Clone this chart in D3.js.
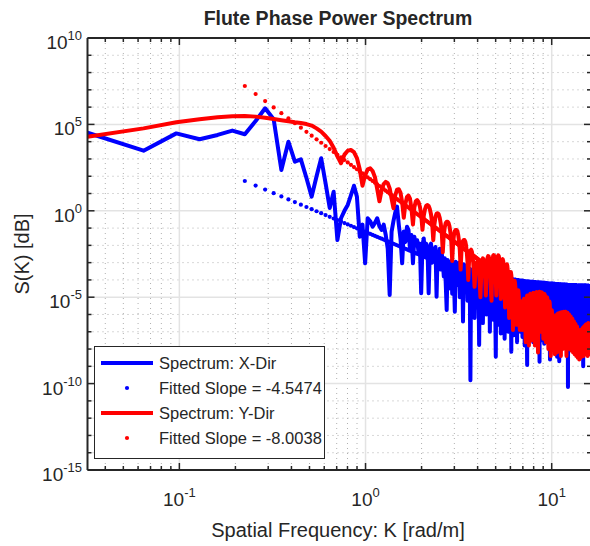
<!DOCTYPE html>
<html><head><meta charset="utf-8">
<script src="https://cdn.jsdelivr.net/npm/d3@7"></script>
<style>body{margin:0;background:#fff}svg{display:block}text{font-family:"Liberation Sans",Arial,Helvetica,sans-serif;fill:#262626}</style>
</head><body><svg id="c" width="590" height="546"></svg>
<script>
// ---- data (sample index n -> K = n * dK) ----
const dK = 0.0321;
// log10 of S(K), X-direction spectrum, samples n = 1..495
const spectrumXLog10 = [4.52,3.48,4.48,4.14,4.39,4.64,4.43,5.20,5.93,5.30,2.36,4.00,2.84,2.98,1.90,0.82,2.00,3.04,1.60,0.16,
1.10,-1.69,-0.43,0.00,0.34,0.90,1.45,0.82,-1.50,-0.80,-3.04,-0.43,-0.60,-0.92,-0.70,-0.43,-0.90,-1.11,-0.80,-1.40,
-2.20,-4.87,-1.20,-0.60,-0.10,0.24,-0.80,-1.60,-3.04,-1.20,-1.80,-0.92,-1.10,-2.20,-1.40,-3.04,-1.50,-2.00,-1.70,-2.40,
-1.90,-4.77,-2.00,-1.60,-2.60,-1.90,-2.10,-4.77,-2.30,-1.90,-3.00,-2.20,-2.60,-2.10,-4.97,-2.40,-2.80,-2.20,-3.40,-2.50,
-2.90,-3.80,-2.75,-4.20,-5.74,-2.85,-4.50,-3.00,-3.60,-2.90,-4.80,-3.00,-3.90,-5.84,-2.95,-4.30,-3.05,-3.70,-3.00,-5.00,
-3.10,-4.10,-3.20,-6.41,-3.10,-4.40,-3.20,-3.90,-3.15,-5.20,-3.30,-4.60,-3.35,-9.80,-3.40,-5.00,-3.45,-4.20,-3.50,-6.20,
-3.50,-4.80,-3.55,-5.60,-3.55,-4.50,-7.77,-3.60,-5.20,-3.60,-4.60,-3.62,-6.50,-3.62,-5.00,-3.65,-4.40,-3.65,-6.00,-3.67,
-5.30,-3.68,-4.80,-3.70,-7.00,-3.70,-5.50,-3.72,-4.60,-3.72,-6.30,-3.74,-5.10,-3.75,-5.80,-8.44,-3.76,-4.90,-3.78,-6.60,
-3.78,-5.40,-3.80,-4.70,-3.80,-7.10,-3.82,-5.60,-3.84,-6.20,-3.85,-5.00,-3.86,-7.40,-3.88,-5.80,-3.88,-6.40,-3.90,-5.20,
-3.90,-7.00,-3.92,-5.50,-3.93,-6.10,-3.94,-5.00,-8.15,-3.95,-6.30,-3.96,-5.40,-3.97,-7.20,-3.98,-5.80,-3.98,-6.50,-3.99,
-5.10,-4.00,-7.60,-4.00,-5.90,-4.01,-6.40,-4.02,-5.30,-4.03,-7.00,-4.03,-6.00,-4.04,-5.50,-4.04,-7.30,-4.05,-6.20,-4.05,
-5.60,-4.06,-7.80,-4.06,-6.40,-4.07,-5.40,-4.07,-6.90,-8.92,-4.08,-6.00,-4.08,-5.70,-4.09,-7.40,-4.09,-6.30,-4.10,-5.50,
-4.10,-7.00,-4.10,-6.10,-4.11,-5.80,-4.11,-7.60,-4.11,-6.40,-4.12,-5.60,-4.12,-7.10,-4.12,-6.00,-4.13,-5.70,-4.13,-7.80,
-4.13,-6.30,-4.14,-5.90,-4.14,-7.20,-4.14,-8.73,-4.15,-6.20,-4.15,-5.60,-4.15,-7.50,-4.15,-6.50,-4.16,-5.80,-4.16,-7.10,
-4.16,-6.00,-4.17,-7.70,-4.17,-6.40,-4.17,-5.70,-4.18,-7.30,-4.18,-6.10,-4.18,-6.80,-4.19,-5.90,-4.19,-7.60,-4.19,-6.30,
-4.20,-5.80,-4.20,-7.20,-8.60,-4.20,-6.40,-4.20,-5.90,-4.21,-7.40,-4.21,-6.10,-4.21,-6.70,-4.21,-7.90,-4.22,-6.30,-4.22,
-5.80,-4.22,-7.10,-4.22,-6.60,-4.23,-6.00,-4.23,-7.50,-4.23,-6.40,-4.23,-8.44,-4.24,-6.20,-4.24,-7.00,-4.24,-5.90,-4.24,
-7.70,-8.70,-4.25,-6.50,-4.25,-6.00,-4.25,-7.30,-4.25,-6.30,-4.26,-5.90,-4.26,-7.60,-4.26,-6.60,-4.26,-6.10,-4.26,-7.20,
-4.27,-6.40,-4.27,-7.90,-4.27,-6.00,-4.27,-6.80,-4.27,-7.40,-4.28,-6.20,-4.28,-7.00,-4.28,-6.50,-4.28,-7.80,-4.28,-6.30,
-10.20,-4.29,-6.90,-4.29,-7.30,-4.29,-6.10,-4.29,-7.60,-4.29,-6.60,-4.29,-7.10,-4.30,-6.20,-4.30,-8.00,-4.30,-6.80,-4.30,
-6.30,-4.30,-7.40,-4.30,-6.50,-4.30,-7.90,-4.30,-6.10,-4.31,-7.00,-4.31,-6.70,-4.31,-7.50,-4.31,-6.30,-4.31,-8.20,-4.31,
-6.80,-4.31,-7.20,-4.31,-6.40,-4.31,-7.70,-4.32,-6.60,-4.32,-7.10,-4.32,-6.20,-4.32,-8.10,-4.32,-6.90,-4.32,-7.40,-4.32,
-6.50,-4.32,-7.80,-4.32,-6.30,-4.32,-7.20,-4.32,-6.80,-4.32,-8.30,-4.33,-6.60,-4.33,-7.50,-4.33,-6.40,-4.33,-7.00,-9.00,
-4.33,-6.70,-4.33,-7.60,-4.33,-6.30,-4.33,-7.90,-4.33,-6.90,-4.33,-7.20,-4.33,-6.50,-4.33,-8.00,-4.33,-6.80,-4.33,-7.40,
-4.34,-6.40,-4.34,-7.70,-4.34,-6.90,-4.34,-7.30,-4.34,-6.60,-4.34,-8.10,-4.34,-6.70,-4.34];
// log10 of S(K), Y-direction spectrum, samples n = 1..495
const spectrumYLog10 = [4.29,4.77,5.12,5.30,5.41,5.47,5.49,5.45,5.39,5.31,5.24,5.18,5.12,5.08,5.02,4.93,4.77,4.58,4.33,4.05,
3.65,3.15,2.75,3.25,3.48,3.52,3.40,3.05,2.40,1.45,2.05,2.40,2.46,2.30,1.95,1.25,0.55,1.20,1.55,1.68,
1.60,1.30,0.70,0.15,0.90,1.22,1.25,1.05,0.50,-0.40,0.40,0.80,0.88,0.70,0.10,-0.80,0.20,0.55,0.62,0.50,
0.25,-0.20,-1.10,-0.30,0.10,0.30,0.34,0.28,0.10,-0.20,-0.70,-1.70,-0.80,-0.35,-0.16,-0.14,-0.20,-0.40,-0.75,-1.30,
-2.40,-1.40,-0.95,-0.70,-0.63,-0.63,-0.70,-0.90,-1.25,-1.80,-2.90,-1.90,-1.40,-1.18,-1.11,-1.11,-1.18,-1.40,-1.75,-2.30,
-3.40,-2.40,-1.95,-1.75,-1.69,-1.69,-1.78,-2.00,-2.40,-3.00,-4.00,-3.00,-2.50,-2.30,-2.25,-2.35,-2.60,-3.00,-3.60,-4.40,
-3.70,-3.20,-3.00,-2.95,-3.00,-3.20,-3.60,-4.20,-5.00,-4.00,-3.20,-2.85,-2.75,-2.80,-3.00,-3.40,-4.00,-4.90,-3.90,-3.10,
-2.70,-2.62,-2.65,-2.80,-3.20,-3.80,-4.70,-5.20,-3.80,-2.90,-2.60,-2.56,-2.60,-2.80,-3.20,-3.90,-4.90,-3.80,-3.00,-2.65,
-2.58,-2.62,-2.85,-3.30,-4.00,-5.10,-4.10,-3.20,-2.85,-2.80,-2.90,-3.20,-3.70,-4.50,-5.60,-4.40,-3.50,-3.15,-3.10,-3.20,
-3.50,-4.00,-4.80,-6.20,-4.90,-4.00,-3.60,-3.55,-3.70,-4.00,-4.50,-5.30,-6.90,-5.40,-4.50,-4.10,-4.05,-4.20,-4.50,-5.00,
-5.80,-6.60,-5.60,-4.90,-4.60,-4.60,-4.80,-5.20,-5.80,-6.90,-6.00,-5.40,-5.25,-5.30,-5.60,-6.10,-6.90,-6.30,-5.50,-5.15,
-5.10,-5.20,-5.50,-6.00,-6.80,-7.60,-6.40,-5.50,-5.00,-4.90,-4.95,-5.20,-5.70,-6.50,-7.80,-6.30,-5.40,-4.90,-4.80,-4.85,
-5.10,-5.60,-6.40,-7.50,-6.20,-5.30,-4.85,-4.75,-4.78,-5.00,-5.50,-6.30,-7.80,-6.40,-5.40,-4.90,-4.72,-4.70,-4.85,-5.30,
-6.00,-7.00,-8.20,-6.30,-5.30,-4.80,-4.68,-4.68,-4.80,-5.20,-5.90,-7.00,-6.20,-5.30,-4.85,-4.72,-4.75,-4.95,-5.40,-6.10,
-7.40,-6.40,-5.50,-5.00,-4.82,-4.85,-5.05,-5.50,-6.20,-7.60,-6.50,-5.60,-5.15,-5.00,-5.05,-5.30,-5.80,-6.60,-8.00,-6.70,
-5.80,-5.35,-5.25,-5.35,-5.70,-6.30,-7.20,-8.40,-7.00,-6.10,-5.80,-5.75,-5.95,-6.40,-7.10,-8.00,-7.20,-6.50,-6.25,-6.20,
-6.35,-6.80,-7.50,-8.30,-7.20,-6.40,-6.10,-6.05,-6.20,-6.60,-7.20,-8.20,-7.10,-6.30,-6.00,-5.95,-6.10,-6.50,-7.10,-8.00,
-7.00,-6.25,-5.95,-5.90,-6.00,-6.40,-7.00,-7.90,-8.40,-6.90,-6.20,-5.92,-5.88,-6.00,-6.40,-7.00,-8.00,-7.00,-6.20,-5.90,
-5.85,-5.95,-6.30,-6.90,-7.80,-7.00,-6.20,-5.88,-5.84,-5.92,-6.25,-6.80,-7.60,-8.40,-7.00,-6.25,-5.95,-5.90,-6.00,-6.35,
-6.90,-7.70,-7.10,-6.40,-6.05,-6.00,-6.10,-6.50,-7.10,-8.00,-7.20,-6.50,-6.18,-6.12,-6.25,-6.60,-7.20,-8.10,-7.20,-6.60,
-6.30,-6.25,-6.35,-6.70,-7.30,-8.20,-7.40,-6.75,-6.45,-6.40,-6.50,-6.85,-7.40,-8.30,-7.50,-6.90,-6.60,-6.55,-6.65,-7.00,
-7.60,-8.40,-7.60,-7.00,-6.75,-6.70,-6.80,-7.15,-7.70,-8.50,-7.70,-7.10,-6.90,-6.88,-7.00,-7.30,-7.90,-8.60,-7.80,-7.20,
-7.00,-6.98,-7.10,-7.40,-8.00,-8.50,-7.70,-7.10,-6.90,-6.88,-7.00,-7.30,-7.90,-8.40,-7.50,-7.00,-6.80,-6.78,-6.90,-7.20,
-7.80,-8.40,-7.40,-6.90,-6.70,-6.68,-6.80,-7.10,-7.70,-8.30,-7.30,-6.80,-6.62,-6.60,-6.70,-7.00,-7.60,-8.30,-7.20,-6.75,
-6.58,-6.56,-6.65,-6.95,-7.50,-8.40,-7.20,-6.70,-6.52,-6.50,-6.60,-6.90,-7.40,-8.30,-7.00];
// fitted power laws: slope, log10 value at first fitted sample, fitted sample range
const fitSlopes = [-4.5474, -8.0038];
const fitStartLog10 = [1.725, 7.222];
const fitRangeN = [7, 140];
const seriesColors = ["#0000ff", "#ff0000"];
const legendLabels = ["Spectrum: X-Dir", "Fitted Slope = -4.5474", "Spectrum: Y-Dir", "Fitted Slope = -8.0038"];
const xTickValues = [0.1, 1, 10];
const yTickValues = [1e-15, 1e-10, 1e-5, 1, 1e5, 1e10];
const titleText = "Flute Phase Power Spectrum";
const xLabelText = "Spatial Frequency: K [rad/m]";
const yLabelText = "S(K) [dB]";

// ---- layout ----
const L = 87.5, R = 591, T = 38, B = 470;
const svg = d3.select("#c");
const x = d3.scaleLog().domain([0.0321, 16.26]).range([L, R]);
const y = d3.scaleLog().domain([1e-15, 1e10]).range([B, T]);
const axisColor = "#262626";

svg.append("defs").append("clipPath").attr("id","clip")
  .append("rect").attr("x",L).attr("y",T).attr("width",R-L).attr("height",B-T);

// grid
const g = svg.append("g");
const xMinor = [], xMajor = [];
for (let e=-2;e<=1;e++) for (let m=1;m<=9;m++){ const v=m*Math.pow(10,e); if(v>x.domain()[0]&&v<x.domain()[1]) (m===1?xMajor:xMinor).push(v); }
const yMinor = [], yMajor = [];
for (let e=-15;e<=10;e++){ const v=Math.pow(10,e); (e%5===0?yMajor:yMinor).push(v); }
g.selectAll(".xmg").data(xMinor).join("line").attr("x1",d=>x(d)).attr("x2",d=>x(d)).attr("y1",T).attr("y2",B)
  .attr("stroke","#b0b0b0").attr("stroke-width",1).attr("stroke-dasharray","1,4");
g.selectAll(".ymg").data(yMinor).join("line").attr("y1",d=>y(d)).attr("y2",d=>y(d)).attr("x1",L).attr("x2",R)
  .attr("stroke","#b0b0b0").attr("stroke-width",1).attr("stroke-dasharray","1,4");
g.selectAll(".xMg").data(xMajor).join("line").attr("x1",d=>x(d)).attr("x2",d=>x(d)).attr("y1",T).attr("y2",B)
  .attr("stroke","#e3e3e3").attr("stroke-width",1.5);
g.selectAll(".yMg").data(yMajor.filter(v=>v>1e-15&&v<1e10)).join("line").attr("y1",d=>y(d)).attr("y2",d=>y(d)).attr("x1",L).attr("x2",R)
  .attr("stroke","#e3e3e3").attr("stroke-width",1.5);

// data
const plot = svg.append("g").attr("clip-path","url(#clip)");
const line = d3.line().x(d=>x(d.k)).y(d=>y(d.s));
const toPts = arr => arr.map((v,i)=>({k:(i+1)*dK, s:Math.pow(10,v)}));
const fitPts = j => { const out=[]; for(let n=fitRangeN[0]; n<=fitRangeN[1]; n++) out.push({k:n*dK, s:Math.pow(10, fitStartLog10[j] + fitSlopes[j]*Math.log10(n/fitRangeN[0]))}); return out; };
[spectrumXLog10, spectrumYLog10].forEach((arr,j)=>{
  plot.append("path").datum(toPts(arr)).attr("d",line).attr("fill","none")
    .attr("stroke",seriesColors[j]).attr("stroke-width",4).attr("stroke-linejoin","round");
  plot.append("g").selectAll("circle").data(fitPts(j)).join("circle")
    .attr("cx",d=>x(d.k)).attr("cy",d=>y(d.s)).attr("r",2.1).attr("fill",seriesColors[j]);
});

// axes box & ticks
const ax = svg.append("g").attr("stroke",axisColor).attr("stroke-width",1.5);
ax.append("line").attr("x1",L).attr("x2",R).attr("y1",B).attr("y2",B).attr("stroke-width",2);
ax.append("line").attr("x1",L).attr("x2",R).attr("y1",T).attr("y2",T).attr("stroke-width",2);
ax.append("line").attr("x1",L).attr("x2",L).attr("y1",T).attr("y2",B).attr("stroke-width",2);
ax.append("line").attr("x1",R).attr("x2",R).attr("y1",T).attr("y2",B).attr("stroke-width",2);
xMinor.concat(xMajor).forEach(v=>{
  const len = xMajor.includes(v)?7:4;
  ax.append("line").attr("x1",x(v)).attr("x2",x(v)).attr("y1",B).attr("y2",B-len);
  ax.append("line").attr("x1",x(v)).attr("x2",x(v)).attr("y1",T).attr("y2",T+len);
});
yMinor.concat(yMajor).forEach(v=>{
  const len = yMajor.includes(v)?7:4;
  ax.append("line").attr("y1",y(v)).attr("y2",y(v)).attr("x1",L).attr("x2",L+len);
  ax.append("line").attr("y1",y(v)).attr("y2",y(v)).attr("x1",R).attr("x2",R-len);
});

// tick labels
const fs = 19, efs = 13;
xTickValues.forEach(v=>{
  const t = svg.append("text").attr("x",x(v)).attr("y",506).attr("text-anchor","middle").attr("font-size",fs);
  t.append("tspan").text("10");
  t.append("tspan").attr("dy",-9).attr("font-size",efs).text(String(Math.round(Math.log10(v))));
});
yTickValues.forEach(v=>{
  const t = svg.append("text").attr("x",82).attr("y",y(v)+11).attr("text-anchor","end").attr("font-size",fs);
  t.append("tspan").text("10");
  t.append("tspan").attr("dy",-9).attr("font-size",efs).text(String(Math.round(Math.log10(v))));
});

// labels
svg.append("text").attr("x",338).attr("y",25).attr("text-anchor","middle").attr("font-size",19.5).attr("font-weight","bold").attr("fill","#000").text(titleText);
svg.append("text").attr("x",338).attr("y",537).attr("text-anchor","middle").attr("font-size",20).text(xLabelText);
svg.append("text").attr("transform","translate(29,254) rotate(-90)").attr("text-anchor","middle").attr("font-size",20).text(yLabelText);

// legend
const lg = svg.append("g");
lg.append("rect").attr("x",94.5).attr("y",346.5).attr("width",230).attr("height",112).attr("fill","#fff").attr("stroke","#262626").attr("stroke-width",1);
legendLabels.forEach((lab,i)=>{
  const cy = 363 + i*25, col = seriesColors[Math.floor(i/2)];
  if (i%2===0) lg.append("line").attr("x1",101).attr("x2",153).attr("y1",cy).attr("y2",cy).attr("stroke",col).attr("stroke-width",4);
  else lg.append("circle").attr("cx",127).attr("cy",cy).attr("r",2.1).attr("fill",col);
  lg.append("text").attr("x",159).attr("y",cy+6).attr("font-size",16.5).text(lab);
});
</script></body></html>
